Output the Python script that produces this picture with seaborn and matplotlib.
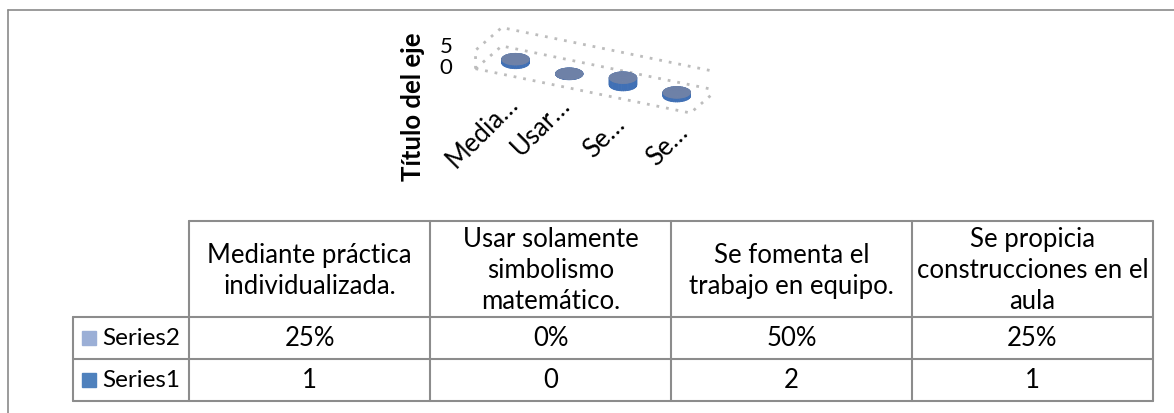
import numpy as np
import matplotlib
matplotlib.use("Agg")
import matplotlib.pyplot as plt
import seaborn as sns

# datos
categorias = ["Mediante práctica\nindividualizada.",
              "Usar solamente\nsimbolismo\nmatemático.",
              "Se fomenta el\ntrabajo en equipo.",
              "Se propicia\nconstrucciones en el\naula"]
etiquetas_cortas = ["Media…", "Usar…", "Se…", "Se…"]
series1 = [1, 0, 2, 1]
series2 = [0.25, 0.0, 0.50, 0.25]
series2_txt = ["25%", "0%", "50%", "25%"]
series1_txt = ["1", "0", "2", "1"]
nombres = ["Series2", "Series1"]
ticks_z = [0, 5]

azul = "#4F81BD"
azul_claro = "#9BAFD6"

sns.set_theme(style="white")
plt.rcParams["font.family"] = ["Lato", "DejaVu Sans"]

fig = plt.figure(figsize=(11.74, 4.14), dpi=100)
base = fig.add_axes([0, 0, 1, 1])
base.set_xlim(0, 1174)
base.set_ylim(414, 0)
base.axis("off")

# marco del grafico
base.plot([8, 1174], [11, 11], color="#8a8a8a", lw=1.2)
base.plot([8, 8], [11, 414], color="#8a8a8a", lw=1.2)

# tabla de datos
xl, xr, colw = 73, 189, 241
xs = [xr + i * colw for i in range(len(categorias) + 1)]
yh, y1, y2, y3 = 222, 318, 360, 402
lc = "#8c8c8c"
lw = 1.5
base.plot([xr, xs[-1]], [yh, yh], color=lc, lw=lw)
for y in (y1, y2, y3):
    base.plot([xl, xs[-1]], [y, y], color=lc, lw=lw)
base.plot([xl, xl], [y1, y3], color=lc, lw=lw)
for x in xs:
    base.plot([x, x], [yh, y3], color=lc, lw=lw)

fs = 18.5
for i, cat in enumerate(categorias):
    cx = (xs[i] + xs[i + 1]) / 2
    base.text(cx, (yh + y1) / 2 + 1, cat, ha="center", va="center", fontsize=fs,
              linespacing=1.3, color="black")
    base.text(cx, (y1 + y2) / 2, series2_txt[i], ha="center", va="center",
              fontsize=fs, color="black")
    base.text(cx, (y2 + y3) / 2, series1_txt[i], ha="center", va="center",
              fontsize=fs, color="black")

for (ya, yb), nom, col in zip([(y1, y2), (y2, y3)], nombres, [azul_claro, azul]):
    yc = (ya + yb) / 2
    base.add_patch(plt.Rectangle((82, yc - 7), 14, 14, color=col))
    base.text(102, yc, nom, ha="left", va="center", fontsize=17.5, color="black")

# titulo del eje y ticks
base.text(413, 107, "Título del eje", rotation=90, ha="center", va="center",
          fontsize=18.5, fontweight="bold", color="black")
for z, yy in zip(ticks_z, [68, 47]):
    base.text(446, yy, str(z), ha="center", va="center", fontsize=16, color="black")

# etiquetas de categoria
pos_lab = [(514, 100), (566, 101), (621, 121), (684, 129)]
for lab, (px, py) in zip(etiquetas_cortas, pos_lab):
    base.text(px, py, lab, rotation=45, ha="right", va="center",
              rotation_mode="anchor", fontsize=18.5, color="black")

# grafico 3D de cilindros
ax = fig.add_axes([0.31, 0.53, 0.39, 0.58], projection="3d")
ax.set_proj_type("ortho")
ax.view_init(elev=25, azim=-64)
ax.set_xlim(-0.5, 3.5)
ax.set_ylim(0, 1)
ax.set_zlim(0, 5)
ax.set_box_aspect((4, 1.0, 0.34))
ax.set_axis_off()
ax.patch.set_alpha(0)

kw = dict(color="#bdbdbd", lw=2, ls=(0, (1, 2.5)))
# suelo
ax.plot([-0.5, 3.5, 3.5, -0.5, -0.5], [0, 0, 1, 1, 0], [0, 0, 0, 0, 0], **kw)
# paredes
ax.plot([-0.5, -0.5, -0.5, 3.5, 3.5], [0, 0, 1, 1, 1], [0, 5, 5, 5, 0], **kw)

r = 0.23
th = np.linspace(0, 2 * np.pi, 48)
for i, h in enumerate(series1):
    X = i + r * np.cos(th)
    Y = 0.5 + r * np.sin(th)
    hh = max(h, 0.05)
    Xs = np.vstack([X, X])
    Ys = np.vstack([Y, Y])
    Zs = np.vstack([np.zeros_like(X), np.full_like(X, hh)])
    ax.plot_surface(Xs, Ys, Zs, color="#4070B5", shade=False,
                    linewidth=0.6, edgecolor="#4070B5")
    rr = np.linspace(0, r, 2)
    R, T = np.meshgrid(rr, th)
    ax.plot_surface(i + R * np.cos(T), 0.5 + R * np.sin(T),
                    np.full_like(R, hh), color="#6E81A7", shade=False,
                    linewidth=0.6, edgecolor="#6E81A7")

fig.savefig("out.png", dpi=100, facecolor="white")
